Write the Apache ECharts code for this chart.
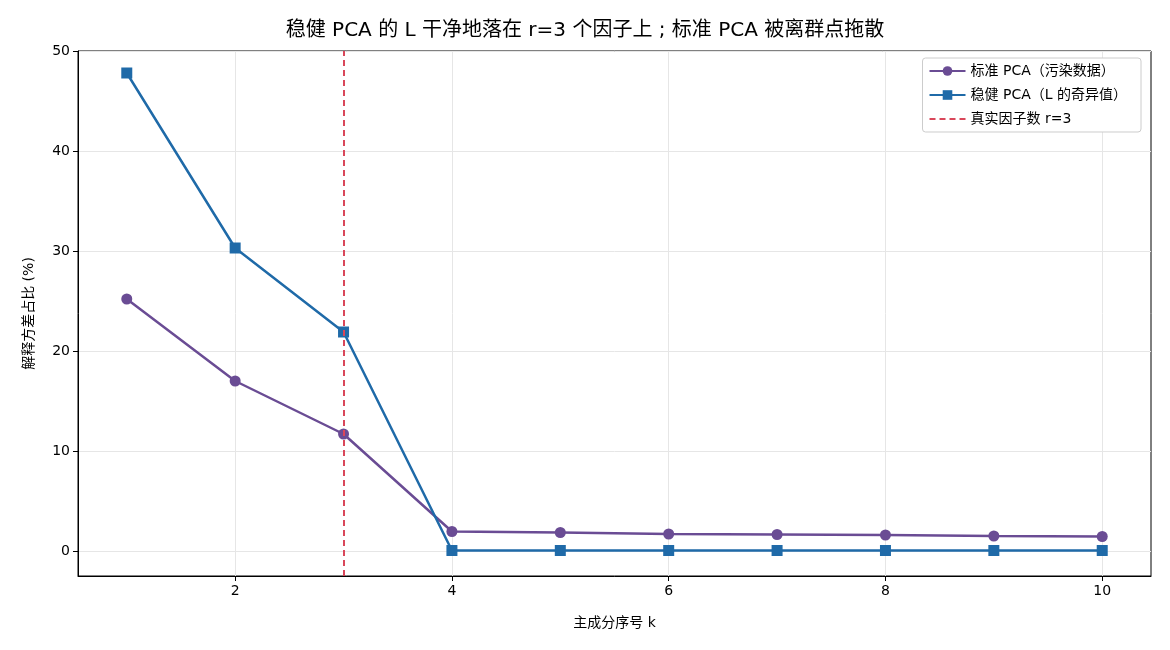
<!DOCTYPE html>
<html><head><meta charset="utf-8">
<script src="https://cdn.jsdelivr.net/npm/echarts@6/dist/echarts.min.js"></script>
<style>html,body{margin:0;padding:0;background:#fff}#c{width:1170px;height:650px}</style>
</head><body><div id="c"></div>
<script>
const components = [1,2,3,4,5,6,7,8,9,10];
const standardPCA = [25.2,17.0,11.7,1.95,1.85,1.7,1.65,1.6,1.5,1.45];
const robustPCA = [47.8,30.3,21.9,0.05,0.05,0.05,0.05,0.05,0.05,0.05];
const trueRank = 3;
const xTicks = [2,4,6,8,10];
const yTicks = [0,10,20,30,40,50];
const FONT = "'DejaVu Sans', 'Noto Sans CJK SC', sans-serif";

const chart = echarts.init(document.getElementById('c'));
chart.setOption({
  animation:false,
  backgroundColor:'#fff',
  textStyle:{fontFamily:FONT},
  title:{text:'稳健 PCA 的 L 干净地落在 r=3 个因子上 ; 标准 PCA 被离群点拖散',left:'center',top:16,
    textStyle:{fontFamily:FONT,fontSize:20,fontWeight:'normal',color:'#000'}},
  grid:{left:78,right:19,top:51,bottom:74,containLabel:false,show:true,borderColor:'#000',borderWidth:1,backgroundColor:'transparent'},
  legend:{orient:'vertical',right:29,top:58,backgroundColor:'#fff',borderColor:'#cccccc',borderWidth:1,borderRadius:3,
    padding:[6,14,6,6],itemWidth:36,itemHeight:12,itemGap:10,
    textStyle:{fontFamily:FONT,fontSize:14,color:'#000'},
    data:['标准 PCA（污染数据）','稳健 PCA（L 的奇异值）',{name:'真实因子数 r=3',itemStyle:{opacity:0}}]},
  xAxis:{type:'value',min:0.55,max:10.45,
    name:'主成分序号 k',nameLocation:'middle',nameGap:40,nameTextStyle:{fontFamily:FONT,fontSize:14,color:'#000'},
    axisLine:{show:true,onZero:false,lineStyle:{color:'#000',width:1}},
    axisTick:{show:true,length:5,customValues:xTicks,lineStyle:{color:'#000'}},
    axisLabel:{customValues:xTicks,fontSize:14,color:'#000',margin:8,fontFamily:FONT},
    splitLine:{show:true,lineStyle:{color:'#e6e6e6',width:1}}},
  yAxis:{type:'value',min:-2.5,max:50,
    name:'解释方差占比 (%)',nameLocation:'middle',nameGap:42,nameRotate:90,nameTextStyle:{fontFamily:FONT,fontSize:14,color:'#000'},
    axisLine:{show:true,onZero:false,lineStyle:{color:'#000',width:1}},
    axisTick:{show:true,length:5,customValues:yTicks,lineStyle:{color:'#000'}},
    axisLabel:{customValues:yTicks,fontSize:14,color:'#000',margin:8,fontFamily:FONT},
    splitLine:{show:true,lineStyle:{color:'#e6e6e6',width:1}}},
  series:[
    {name:'标准 PCA（污染数据）',type:'line',data:components.map((k,i)=>[k,standardPCA[i]]),
      symbol:'circle',symbolSize:11,lineStyle:{width:2.5,color:'#6a4c94'},itemStyle:{color:'#6a4c94'},z:3},
    {name:'稳健 PCA（L 的奇异值）',type:'line',data:components.map((k,i)=>[k,robustPCA[i]]),
      symbol:'rect',symbolSize:11,lineStyle:{width:2.5,color:'#1f6aa8'},itemStyle:{color:'#1f6aa8'},z:4},
    {name:'真实因子数 r=3',type:'line',data:[],symbol:'none',
      lineStyle:{width:2,type:[6,4],color:'#d9475a'},itemStyle:{color:'#d9475a'},
      markLine:{silent:true,symbol:'none',label:{show:false},
        lineStyle:{width:2,type:[6,4],color:'#d9475a'},data:[{xAxis:trueRank}]},z:2}
  ]
});
</script></body></html>
